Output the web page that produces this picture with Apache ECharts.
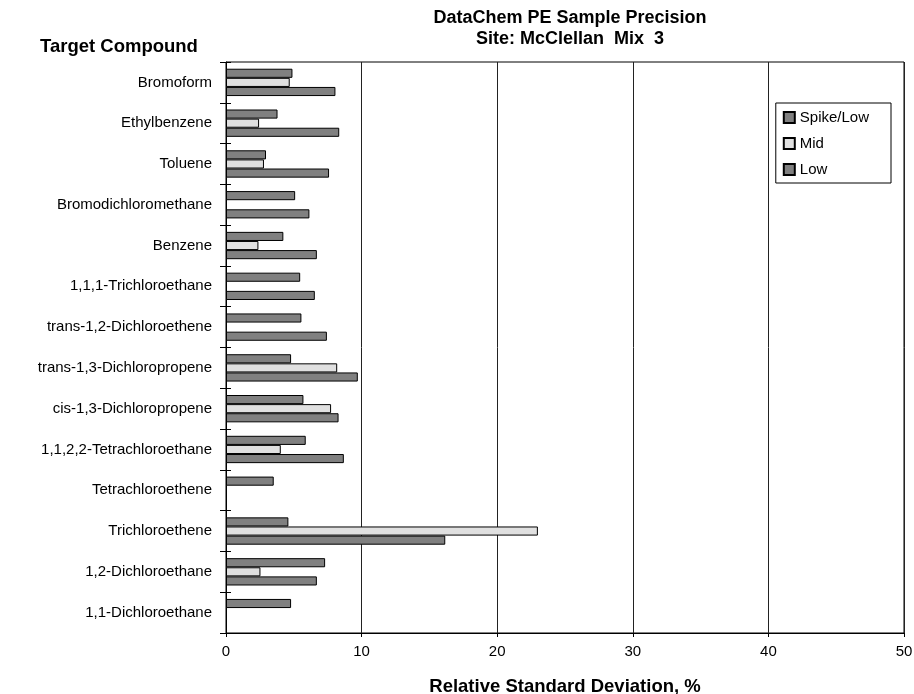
<!DOCTYPE html>
<html><head><meta charset="utf-8">
<script src="https://cdn.jsdelivr.net/npm/echarts@6/dist/echarts.min.js"></script>
<style>html,body{margin:0;padding:0;background:#fff;overflow:hidden}#c{width:914px;height:694px}</style>
</head><body><div id="c"></div>
<script>
var categories = ["Bromoform","Ethylbenzene","Toluene","Bromodichloromethane","Benzene","1,1,1-Trichloroethane","trans-1,2-Dichloroethene","trans-1,3-Dichloropropene","cis-1,3-Dichloropropene","1,1,2,2-Tetrachloroethane","Tetrachloroethene","Trichloroethene","1,2-Dichloroethane","1,1-Dichloroethane"];
var spikeLow = [4.9,3.8,2.95,5.1,4.23,5.47,5.56,4.8,5.71,5.88,3.52,4.6,7.31,4.8];
var mid = [4.7,2.44,2.8,null,2.39,null,null,8.2,7.75,4.04,null,23.0,2.54,null];
var low = [8.07,8.35,7.6,6.15,6.7,6.55,7.44,9.72,8.3,8.69,null,16.17,6.7,null];
var xTicks = [0,10,20,30,40,50];

var F = "'Liberation Sans', Arial, sans-serif";
var chart = echarts.init(document.getElementById('c'), null, {renderer:'canvas', width:914, height:694});
function ser(name, data, color){
  return {name:name, type:'bar', data:data, barGap:'0%', barCategoryGap:'33%',
    itemStyle:{color:color, borderColor:'#000', borderWidth:1}, animation:false};
}
chart.setOption({
  animation:false,
  backgroundColor:'#fff',
  title:[
    {text:'DataChem PE Sample Precision\nSite: McClellan  Mix  3', left:565, top:3, textAlign:'center',
     textStyle:{fontFamily:F, fontWeight:'bold', fontSize:18, lineHeight:21, color:'#000'}},
    {text:'Target Compound', left:35, top:32,
     textStyle:{fontFamily:F, fontWeight:'bold', fontSize:18.5, color:'#000'}}
  ],
  legend:{orient:'vertical', right:23, top:103, padding:[7,22,6,7], itemGap:11,
    borderColor:'#000', borderWidth:1, backgroundColor:'#fff',
    itemWidth:11, itemHeight:11, icon:'rect',
    textStyle:{fontFamily:F, fontSize:15, color:'#000'},
    data:['Spike/Low','Mid','Low']},
  grid:{left:226, right:10, top:62, height:571, show:true, borderColor:'#000', borderWidth:1,
    containLabel:false, outerBoundsMode:'none'},
  xAxis:{type:'value', min:xTicks[0], max:xTicks[xTicks.length-1], interval:10,
    name:'Relative Standard Deviation, %', nameLocation:'middle', nameGap:44,
    nameTextStyle:{fontFamily:F, fontWeight:'bold', fontSize:18.5, color:'#000'},
    axisLine:{show:true, lineStyle:{color:'#000'}},
    axisTick:{show:true, length:4, lineStyle:{color:'#000'}},
    axisLabel:{fontFamily:F, fontSize:15, color:'#000', margin:11},
    splitLine:{show:true, lineStyle:{color:'#222', width:1}}},
  yAxis:[{type:'category', data:categories, inverse:true,
    axisLine:{show:true, lineStyle:{color:'#000'}},
    axisTick:{show:true, length:6, lineStyle:{color:'#000'}},
    axisLabel:{fontFamily:F, fontSize:15, color:'#000', margin:14},
    splitLine:{show:false}},
   {type:'category', data:categories, inverse:true, position:'left',
    axisLine:{show:false},
    axisTick:{show:true, inside:true, length:5, lineStyle:{color:'#000'}},
    axisLabel:{show:false}, splitLine:{show:false}}],
  series:[ser('Spike/Low', spikeLow, '#808080'), ser('Mid', mid, '#e0e0e0'), ser('Low', low, '#808080')]
});
</script></body></html>
